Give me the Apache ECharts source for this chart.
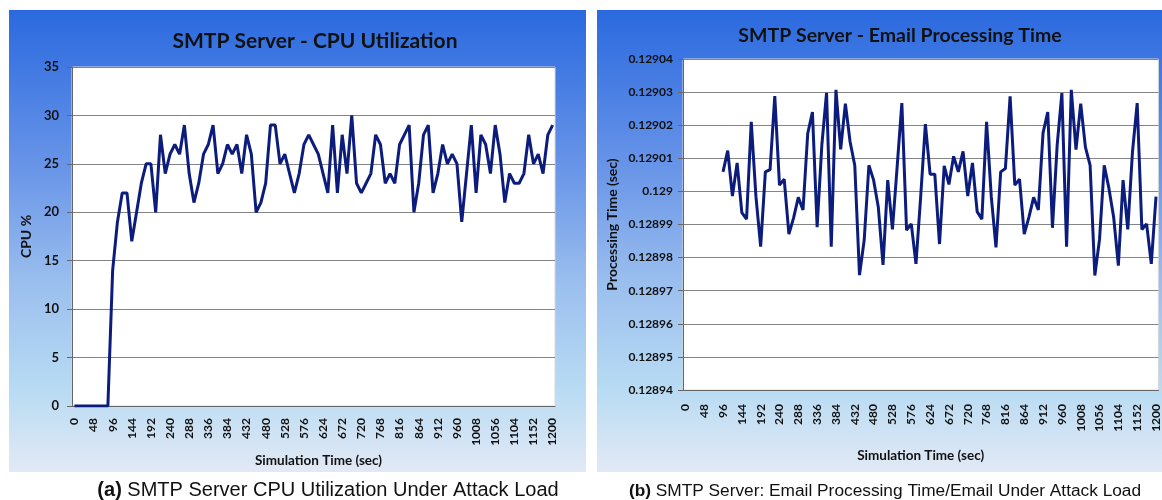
<!DOCTYPE html>
<html>
<head>
<meta charset="utf-8">
<script src="https://cdn.jsdelivr.net/npm/echarts@6/dist/echarts.min.js"></script>
<style>
  html, body { margin: 0; padding: 0; background: #fff; }
  #chart { width: 1162px; height: 500px; }
</style>
</head>
<body>
<div id="chart"></div>
<script>
// simulation time (sec), one sample every 12 s
const seconds = ['0','12','24','36','48','60','72','84','96','108','120','132','144','156','168','180',
  '192','204','216','228','240','252','264','276','288','300','312','324','336','348','360','372',
  '384','396','408','420','432','444','456','468','480','492','504','516','528','540','552','564',
  '576','588','600','612','624','636','648','660','672','684','696','708','720','732','744','756',
  '768','780','792','804','816','828','840','852','864','876','888','900','912','924','936','948',
  '960','972','984','996','1008','1020','1032','1044','1056','1068','1080','1092','1104','1116','1128','1140',
  '1152','1164','1176','1188','1200'];

// (a) CPU %
const cpuUtil = [0,0,0,0,0,0,0,0,14,19,22,22,17,20,23,25,25,20,28,24,26,27,26,29,24,21,23,26,27,29,
  24,25,27,26,27,24,28,26,20,21,23,29,29,25,26,24,22,24,27,28,27,26,24,22,29,22,28,24,30,23,
  22,23,24,28,27,23,24,23,27,28,29,20,23,28,29,22,24,27,25,26,25,19,24,29,22,28,27,24,29,26,
  21,24,23,23,24,28,25,26,24,28,29];

// (b) processing time per email (sec)
const procTime = [null,null,null,null,null,null,null,null,
  0.1290059,0.1290123,0.1289986,0.1290086,0.1289936,0.1289916,0.1290210,0.1289984,0.1289833,0.1290059,
  0.1290066,0.1290288,0.1290019,0.1290037,0.1289871,0.1289920,0.1289982,0.1289944,0.1290175,0.1290240,
  0.1289892,0.1290140,0.1290298,0.1289833,0.1290307,0.1290127,0.1290265,0.1290150,0.1290078,0.1289747,
  0.1289853,0.1290079,0.1290034,0.1289952,0.1289778,0.1290034,0.1289885,0.1290074,0.1290267,0.1289883,
  0.1289902,0.1289781,0.1289984,0.1290203,0.1290052,0.1290052,0.1289841,0.1290077,0.1290021,0.1290106,
  0.1290059,0.1290121,0.1289986,0.1290086,0.1289939,0.1289916,0.1290210,0.1289984,0.1289831,0.1290059,
  0.1290069,0.1290287,0.1290019,0.1290037,0.1289871,0.1289922,0.1289982,0.1289944,0.1290177,0.1290240,
  0.1289890,0.1290140,0.1290297,0.1289833,0.1290307,0.1290126,0.1290265,0.1290134,0.1290079,0.1289746,
  0.1289855,0.1290079,0.1290009,0.1289922,0.1289776,0.1290034,0.1289885,0.1290119,0.1290267,0.1289885,
  0.1289902,0.1289781,0.1289984];

const chart = echarts.init(document.getElementById('chart'));

function panelFill() {
  return new echarts.graphic.LinearGradient(0, 0, 0, 1, [
    { offset: 0, color: '#2a69df' },
    { offset: 0.35, color: '#6a96e8' },
    { offset: 0.6, color: '#9cc0ee' },
    { offset: 0.82, color: '#b8dbf3' },
    { offset: 1, color: '#e2e9f5' }
  ]);
}

const lineColor = '#0c1c7c';
const gridColor = '#858585';
const labelFont = { fontFamily: 'Lato', fontWeight: 'bold', color: '#111' };

chart.setOption({
  animation: false,
  graphic: [
    { type: 'rect', z: -10, shape: { x: 9, y: 10, width: 577, height: 462 }, style: { fill: panelFill() } },
    { type: 'rect', z: -10, shape: { x: 597, y: 10, width: 565, height: 462 }, style: { fill: panelFill() } },
    { type: 'text', x: 315, y: 41, style: { text: 'SMTP Server - CPU Utilization', font: 'bold 21px Lato', fill: '#111', align: 'center', verticalAlign: 'middle' } },
    { type: 'text', x: 900, y: 36, style: { text: 'SMTP Server - Email Processing Time', font: 'bold 19.5px Lato', fill: '#111', align: 'center', verticalAlign: 'middle' } },
    { type: 'text', x: 328, y: 490, style: {
        text: '{b|(a)} SMTP Server CPU Utilization Under Attack Load',
        font: '20px "Liberation Sans"', fill: '#111', align: 'center', verticalAlign: 'middle',
        rich: { b: { fontWeight: 'bold', fontFamily: 'Liberation Sans', fontSize: 20 } } } },
    { type: 'text', x: 885, y: 491, style: {
        text: '{b|(b)} SMTP Server: Email Processing Time/Email Under Attack Load',
        font: '17.3px "Liberation Sans"', fill: '#111', align: 'center', verticalAlign: 'middle',
        rich: { b: { fontWeight: 'bold', fontFamily: 'Liberation Sans', fontSize: 17.3 } } } }
  ],
  grid: [
    { left: 72, top: 67, width: 483, height: 339, show: true, backgroundColor: '#fff', borderColor: '#d8d8d8', borderWidth: 1 },
    { left: 683, top: 59, width: 477, height: 331, show: true, backgroundColor: '#fff', borderColor: '#d8d8d8', borderWidth: 1 }
  ],
  xAxis: [0, 1].map(i => ({
    type: 'category',
    gridIndex: i,
    data: seconds,
    boundaryGap: true,
    name: 'Simulation Time (sec)',
    nameLocation: 'middle',
    nameGap: i === 0 ? 42 : 59,
    nameTextStyle: Object.assign({ fontSize: 13.5, verticalAlign: 'top', padding: i === 0 ? [0, 0, 0, 10] : 0 }, labelFont),
    axisLine: { lineStyle: { color: '#666', width: 1 } },
    axisTick: { show: false },
    axisLabel: Object.assign({ interval: 3, rotate: 90, fontSize: 12, margin: i === 0 ? 12 : 14 }, labelFont),
    splitLine: { show: false }
  })),
  yAxis: [
    {
      type: 'value', gridIndex: 0, min: 0, max: 35, interval: 5,
      name: 'CPU %', nameLocation: 'middle', nameGap: 39,
      nameTextStyle: Object.assign({ fontSize: 14 }, labelFont),
      axisLine: { show: true, lineStyle: { color: '#666' } },
      axisTick: { show: true, length: 5, lineStyle: { color: '#666' } },
      axisLabel: Object.assign({ fontSize: 13, margin: 13 }, labelFont),
      splitLine: { lineStyle: { color: gridColor, width: 1 } }
    },
    {
      type: 'value', gridIndex: 1, min: 0.12894, max: 0.12904, interval: 0.00001,
      name: 'Processing Time (sec)', nameLocation: 'middle', nameGap: 64,
      nameTextStyle: Object.assign({ fontSize: 14 }, labelFont),
      axisLine: { show: true, lineStyle: { color: '#666' } },
      axisTick: { show: true, length: 5, lineStyle: { color: '#666' } },
      axisLabel: Object.assign({ fontSize: 12, margin: 10,
        formatter: v => String(parseFloat(Number(v).toFixed(5))) }, labelFont),
      splitLine: { lineStyle: { color: gridColor, width: 1 } }
    }
  ],
  series: [
    {
      name: 'CPU %', type: 'line', xAxisIndex: 0, yAxisIndex: 0,
      data: cpuUtil, symbol: 'none',
      lineStyle: { color: lineColor, width: 3 }
    },
    {
      name: 'Processing Time', type: 'line', xAxisIndex: 1, yAxisIndex: 1,
      data: procTime, symbol: 'none', connectNulls: false,
      lineStyle: { color: lineColor, width: 3 }
    }
  ]
});
</script>
</body>
</html>
